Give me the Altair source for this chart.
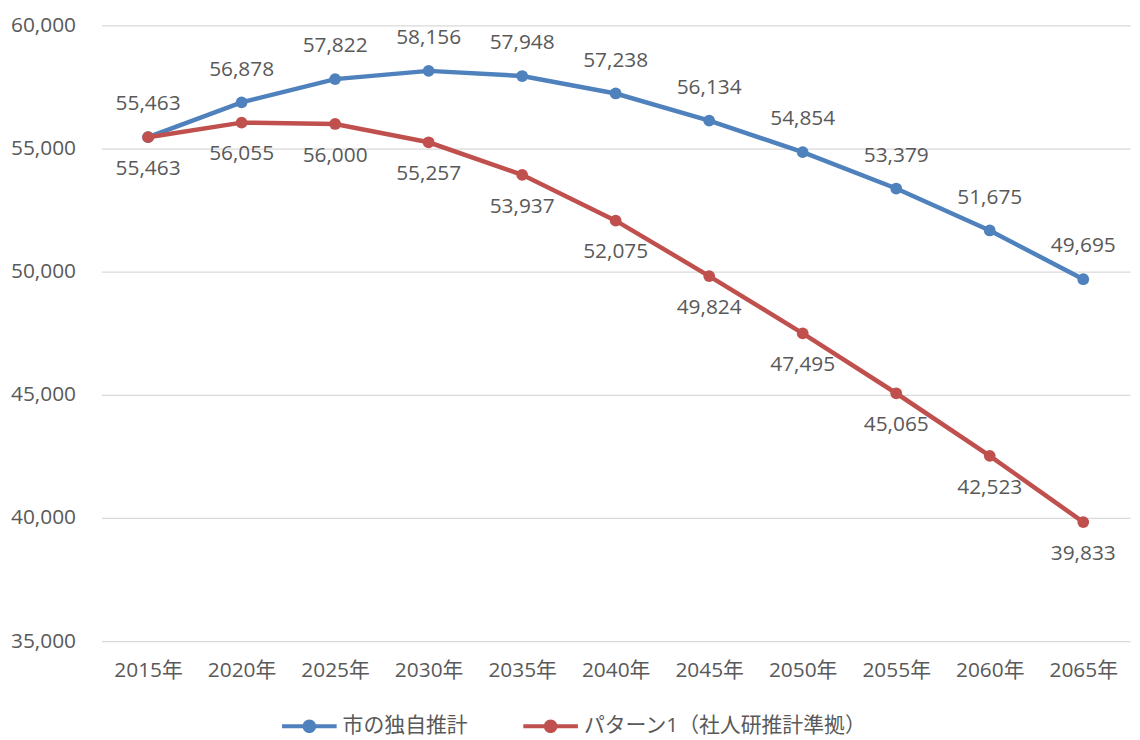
import altair as alt
import pandas as pd

years = ["2015年", "2020年", "2025年", "2030年", "2035年", "2040年",
         "2045年", "2050年", "2055年", "2060年", "2065年"]
series_names = ["市の独自推計", "パターン1（社人研推計準拠）"]
own = [55463, 56878, 57822, 58156, 57948, 57238, 56134, 54854, 53379, 51675, 49695]
pattern1 = [55463, 56055, 56000, 55257, 53937, 52075, 49824, 47495, 45065, 42523, 39833]
colors = ["#4F81BD", "#C0504D"]

rows = []
for i, y in enumerate(years):
    rows.append({"year": y, "series": series_names[0], "value": own[i], "order": i})
    rows.append({"year": y, "series": series_names[1], "value": pattern1[i], "order": i})
df = pd.DataFrame(rows)

FONT = "Open Sans, Noto Sans CJK JP, sans-serif"
GRAY = "#595959"
FS = 21

x = alt.X("year:N", sort=years, title=None,
          axis=alt.Axis(labelAngle=0, domain=False, ticks=False, labelPadding=19,
                        labelFontSize=FS, labelColor=GRAY, labelFont=FONT, grid=False),
          scale=alt.Scale(paddingInner=0, paddingOuter=0.5))
y = alt.Y("value:Q", title=None,
          scale=alt.Scale(domain=[35000, 60000], nice=False, zero=False),
          axis=alt.Axis(values=[35000, 40000, 45000, 50000, 55000, 60000], format=",.0f",
                        domain=False, ticks=False, labelPadding=26, labelFontSize=FS,
                        labelColor=GRAY, labelFont=FONT, gridColor="#D9D9D9",
                        gridWidth=1.3))

legend_path = ("M-1,-0.075 L1,-0.075 L1,0.075 L-1,0.075 Z "
               "M-0.25,0 A0.25,0.25 0 1,1 0.25,0 A0.25,0.25 0 1,1 -0.25,0 Z")

base = alt.Chart(df)

line_layers = [
    base.transform_filter(alt.datum.series == name).mark_line(strokeWidth=4.5, color=col).encode(
        x=x, y=y, order="order:Q")
    for name, col in zip(series_names, colors)
]

points = base.mark_point(filled=True, size=140, opacity=1).encode(
    x=x, y=y,
    color=alt.Color("series:N", sort=series_names,
                    scale=alt.Scale(domain=series_names, range=colors),
                    legend=alt.Legend(title=None, orient="none", direction="horizontal",
                                      legendX=182, legendY=678,
                                      symbolType=legend_path, symbolSize=3025,
                                      symbolStrokeWidth=0, labelFontSize=21,
                                      labelColor=GRAY, labelFont=FONT, labelOffset=6,
                                      labelLimit=500, columnPadding=56)),
)
labels_top = base.transform_filter(alt.datum.series == series_names[0]).mark_text(
    dy=-33, fontSize=FS, color=GRAY, font=FONT).encode(
    x=x, y=y, text=alt.Text("value:Q", format=","))
labels_bot = base.transform_filter(alt.datum.series == series_names[1]).mark_text(
    dy=32, fontSize=FS, color=GRAY, font=FONT).encode(
    x=x, y=y, text=alt.Text("value:Q", format=","))

chart = alt.layer(*line_layers, points, labels_top, labels_bot).properties(
    width=1036, height=620,
    autosize=alt.AutoSizeParams(type="none"),
    padding={"left": 94, "top": 15, "right": 2, "bottom": 97},
    background="white",
).configure_view(strokeWidth=0)

chart.save("out.html", embed_options={"renderer": "svg", "actions": False})
